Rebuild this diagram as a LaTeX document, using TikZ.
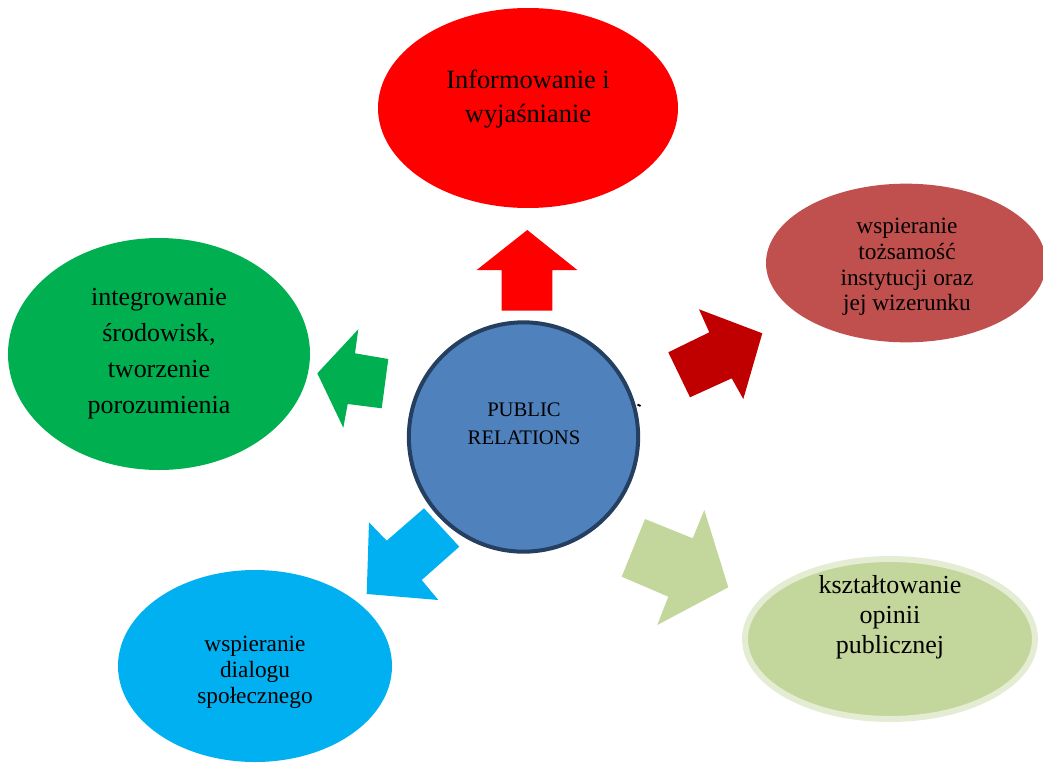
\documentclass[tikz,border=0pt]{standalone}
\usepackage{fontspec}
\setmainfont{Liberation Serif}
\usetikzlibrary{shapes.geometric}
\definecolor{cRed}{HTML}{FF0000}
\definecolor{cDarkRed}{HTML}{C0504D}
\definecolor{cArrowRed}{HTML}{C00000}
\definecolor{cGreen}{HTML}{00B050}
\definecolor{cBlue}{HTML}{00B0F0}
\definecolor{cLightGreen}{HTML}{C3D69B}
\definecolor{cLightRing}{HTML}{E4EDD3}
\definecolor{cCenter}{HTML}{4F81BD}
\definecolor{cCenterBorder}{HTML}{243F60}
\tikzset{
  blob/.style={ellipse, draw=none, inner sep=0pt},
  lbl/.style={align=center, text=black, inner sep=0pt},
}
\begin{document}
\begin{tikzpicture}[x=0.75pt,y=-0.75pt]
\useasboundingbox (0,0) rectangle (1043,764);

% ellipses
\node[blob, fill=cRed, minimum width=225pt, minimum height=150pt] (inf) at (528,108) {};
\node[blob, fill=cDarkRed, minimum width=210pt, minimum height=119pt] (tozs) at (906,263) {};
\node[blob, fill=cGreen, minimum width=226.5pt, minimum height=174pt] (integ) at (159,354) {};
\node[blob, fill=cBlue, minimum width=205.5pt, minimum height=144pt] (dial) at (255,666) {};
\node[ellipse, fill=cLightGreen, draw=cLightRing, line width=4.5pt, minimum width=217.5pt, minimum height=120pt, inner sep=0pt] (opin) at (890,639) {};
\node[circle, fill=cCenter, draw=cCenterBorder, line width=3pt, minimum size=172pt, inner sep=0pt] (pr) at (523.5,437) {};

% arrows
\fill[cRed] (527.3,230) -- (577.3,270) -- (552.3,270) -- (552.3,310.7) -- (501.7,310.7) -- (501.7,270) -- (476.7,270) -- cycle;
\fill[cArrowRed] (668.3,352.3) -- (709.3,332.3) -- (699,309.3) -- (762.3,333.3) -- (743.3,399) -- (731.7,378.3) -- (690,397.3) -- cycle;
\fill[cGreen] (317.3,373.3) -- (358.3,329.3) -- (355,353.3) -- (388.3,359) -- (381.7,408.3) -- (347.7,404) -- (343.3,427.7) -- cycle;
\fill[cBlue] (424,508.3) -- (459.3,546.7) -- (421.7,580) -- (438.3,600) -- (366.7,594) -- (369,522.3) -- (386.7,540.7) -- cycle;
\fill[cLightGreen] (645,519) -- (692.7,538.3) -- (704.3,510) -- (728.3,587.3) -- (657.3,625) -- (668.3,596.7) -- (621.7,576.7) -- cycle;

% small mark
\draw[black, line width=1.5pt] (637.5,404.5) -- (640.5,406);

% texts
\node[lbl, font=\fontsize{19.8}{25.5}\selectfont] (tinf) at (528,99) {Informowanie i\\wyjaśnianie};
\node[lbl, font=\fontsize{17.5}{19.2}\selectfont] (ttozs) at (907,267) {wspieranie\\tożsamość\\instytucji oraz\\jej wizerunku};
\node[lbl, font=\fontsize{19.5}{27}\selectfont] (tinteg) at (159,354) {integrowanie\\środowisk,\\tworzenie\\porozumienia};
\node[lbl, font=\fontsize{17.5}{19.5}\selectfont] (tdial) at (255,672) {wspieranie\\dialogu\\społecznego};
\node[lbl, font=\fontsize{19.5}{22.5}\selectfont] (topin) at (890,617) {kształtowanie\\opinii\\publicznej};
\node[lbl, font=\fontsize{15.5}{21}\selectfont] (tpr) at (524,424) {PUBLIC\\RELATIONS};
\end{tikzpicture}
\end{document}
